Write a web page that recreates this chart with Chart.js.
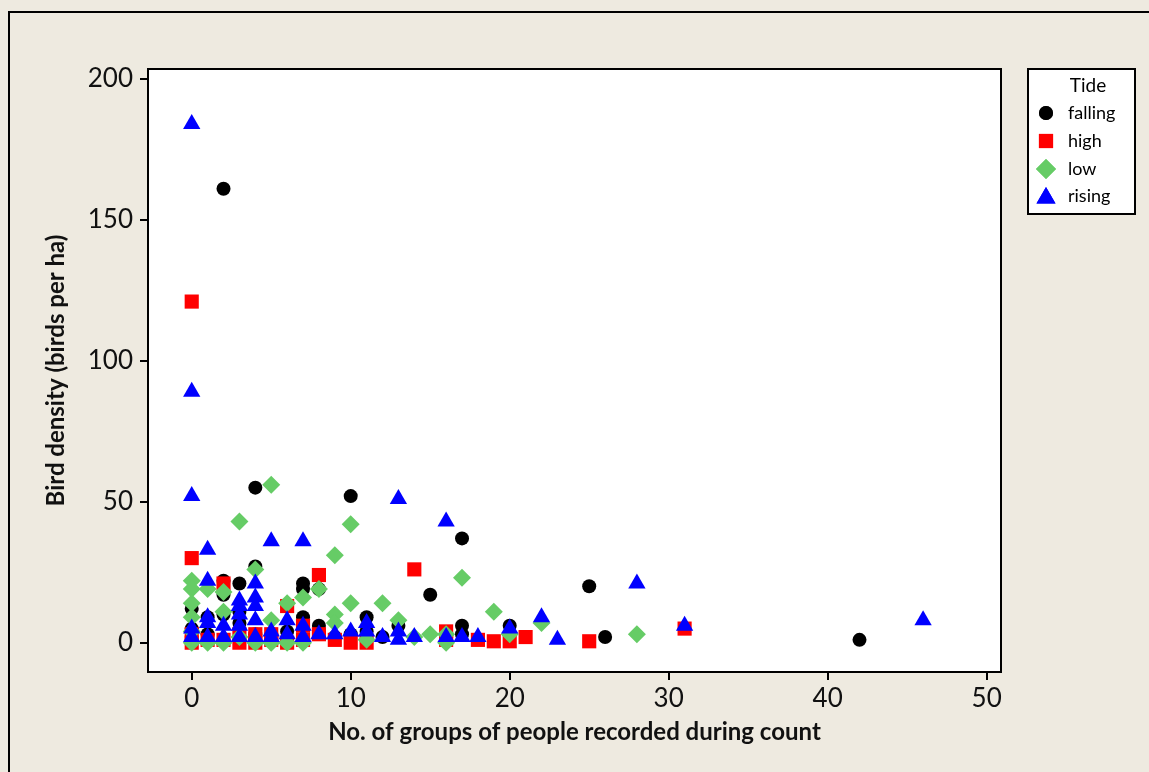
<!DOCTYPE html>
<html>
<head>
<meta charset="utf-8">
<script src="https://cdn.jsdelivr.net/npm/chart.js@4/dist/chart.umd.min.js"></script>
<style>
  html, body { margin: 0; padding: 0; background: #EEEAE0; }
  #wrap { width: 1149px; height: 772px; }
</style>
</head>
<body>
<div id="wrap"><canvas id="c" width="1149" height="772"></canvas></div>
<script>
// ---- data: [groups of people, bird density] ----
const falling = [[0,12],[0,5],[1,9],[1,3],[2,161],[2,22],[2,17],[2,10],[3,21],[3,11],[3,7],[4,55],[4,27],[4,3],[5,2],[6,4],[7,21],[7,19],[7,9],[8,19],[8,6],[9,2],[10,52],[10,3],[11,9],[11,4],[12,2],[13,6],[15,17],[16,2],[17,37],[17,6],[17,3],[20,6],[25,20],[26,2],[42,1]];
const high = [[0,121],[0,30],[0,3],[0,0],[1,1],[2,21],[2,1],[3,3],[3,0],[4,3],[4,0],[5,3],[5,1],[6,13],[6,0],[7,6],[7,1],[8,24],[8,3],[9,1],[10,0],[11,0],[14,26],[16,4],[16,1],[18,1],[19,0.5],[20,0.5],[21,2],[25,0.5],[31,5]];
const low = [[0,22],[0,19],[0,14],[0,9],[0,4],[0,0],[1,19],[1,0],[2,18],[2,11],[2,0],[3,43],[3,2],[4,26],[4,0],[5,56],[5,8],[5,0],[6,14],[6,0],[7,16],[7,0],[8,19],[9,31],[9,10],[9,7],[10,42],[10,14],[11,1],[12,14],[13,8],[14,2],[15,3],[16,3],[16,0],[17,23],[19,11],[20,3],[22,7],[28,3]];
const rising = [[0,184],[0,89],[0,52],[0,5],[0,2],[1,33],[1,22],[1,9],[1,7],[1,2],[2,6],[2,2],[3,15],[3,13],[3,10],[3,6],[3,2],[4,21],[4,16],[4,13],[4,8],[4,2],[5,36],[5,4],[5,2],[6,8],[6,3],[7,36],[7,6],[7,2],[8,3],[9,3],[10,4],[11,7],[11,4],[12,2],[13,51],[13,4],[13,1],[14,2],[16,43],[16,2],[17,2],[18,2],[20,5],[22,9],[23,1],[28,21],[31,6],[46,8]];
const seriesNames = ['falling', 'high', 'low', 'rising'];
const xTicks = [0, 10, 20, 30, 40, 50];
const yTicks = [0, 50, 100, 150, 200];
const legendTitle = 'Tide';
const xTitle = 'No. of groups of people recorded during count';
const yTitle = 'Bird density (birds per ha)';

const FONT = "Lato, 'Open Sans', 'DejaVu Sans', sans-serif";
const toPts = arr => arr.map(p => ({x: p[0], y: p[1]}));

const styles = [
  {color: '#000000', pointStyle: 'circle',   radius: 7,   order: 4},
  {color: '#FF0000', pointStyle: 'rect',     radius: 10,  order: 3},
  {color: '#66CC66', pointStyle: 'rectRot',  radius: 9,   order: 2},
  {color: '#0000FF', pointStyle: 'triangle', radius: 10,  order: 1}
];
const seriesData = [falling, high, low, rising];

const datasets = seriesNames.map((name, i) => ({
  label: name,
  data: toPts(seriesData[i]),
  pointStyle: styles[i].pointStyle,
  pointRadius: styles[i].radius,
  pointHoverRadius: styles[i].radius,
  backgroundColor: styles[i].color,
  borderColor: styles[i].color,
  borderWidth: 0,
  order: styles[i].order
}));

const framePlugin = {
  id: 'frame',
  beforeDraw(chart) {
    const {ctx, chartArea: a} = chart;
    ctx.save();
    ctx.fillStyle = '#EEEAE0';
    ctx.fillRect(0, 0, chart.width, chart.height);
    ctx.strokeStyle = '#000';
    ctx.lineWidth = 2;
    ctx.strokeRect(9, 12, 1300, 900);
    ctx.fillStyle = '#FFFFFF';
    ctx.fillRect(a.left, a.top, a.right - a.left, a.bottom - a.top);
    ctx.restore();
  },
  afterDraw(chart) {
    const {ctx, chartArea: a} = chart;
    ctx.save();
    ctx.strokeStyle = '#000';
    ctx.lineWidth = 2;
    ctx.strokeRect(a.left, a.top, a.right - a.left, a.bottom - a.top);
    // legend
    const lx = 1028, ly = 69, lw = 107, lh = 145;
    ctx.fillStyle = '#FFFFFF';
    ctx.fillRect(lx, ly, lw, lh);
    ctx.lineWidth = 2;
    ctx.strokeRect(lx, ly, lw, lh);
    ctx.fillStyle = '#000';
    ctx.font = "19px " + FONT;
    ctx.textAlign = 'center';
    ctx.textBaseline = 'middle';
    ctx.fillText(legendTitle, 1088, 86);
    ctx.font = "18px " + FONT;
    ctx.textAlign = 'left';
    const ys = [113, 141, 169, 196];
    seriesNames.forEach((name, i) => {
      ctx.fillStyle = styles[i].color;
      const ps = styles[i].pointStyle;
      const r = ps === 'circle' ? 7 : (ps === 'rect' ? 10 : (ps === 'rectRot' ? 10 : 11));
      Chart.helpers.drawPoint(ctx, {pointStyle: ps, radius: r, borderWidth: 0, rotation: 0}, 1046, ys[i] + (ps === 'triangle' ? 2 : 0));
      ctx.fill();
      ctx.fillStyle = '#000';
      ctx.fillText(name, 1068, ys[i]);
    });
    ctx.restore();
  }
};

new Chart(document.getElementById('c'), {
  type: 'scatter',
  data: {datasets},
  options: {
    responsive: false,
    animation: false,
    devicePixelRatio: 1,
    layout: {padding: {left: 0, top: 69, right: 148, bottom: 0}},
    plugins: {legend: {display: false}, tooltip: {enabled: false}},
    scales: {
      x: {
        type: 'linear',
        min: -2.75, max: 50.9,
        afterBuildTicks: ax => { ax.ticks = xTicks.map(v => ({value: v})); },
        afterFit: ax => { ax.height = 100; },
        border: {display: false},
        grid: {drawOnChartArea: false, drawTicks: true, tickLength: 8, color: '#000', lineWidth: 2},
        ticks: {color: '#111', font: {family: FONT, size: 26}, padding: 3, maxRotation: 0},
        title: {display: true, text: xTitle, color: '#111', font: {family: FONT, size: 24, weight: 'bold'}, padding: {top: 0, bottom: 25}}
      },
      y: {
        type: 'linear',
        min: -10.4, max: 203.5,
        afterBuildTicks: ax => { ax.ticks = yTicks.map(v => ({value: v})); },
        afterFit: ax => { ax.width = 148; },
        border: {display: false},
        grid: {drawOnChartArea: false, drawTicks: true, tickLength: 8, color: '#000', lineWidth: 2},
        ticks: {color: '#111', font: {family: FONT, size: 26}, padding: 7},
        title: {display: true, text: yTitle, color: '#111', font: {family: FONT, size: 24, weight: 'bold'}, padding: {top: 42, bottom: 0}}
      }
    }
  },
  plugins: [framePlugin]
});
</script>
</body>
</html>
